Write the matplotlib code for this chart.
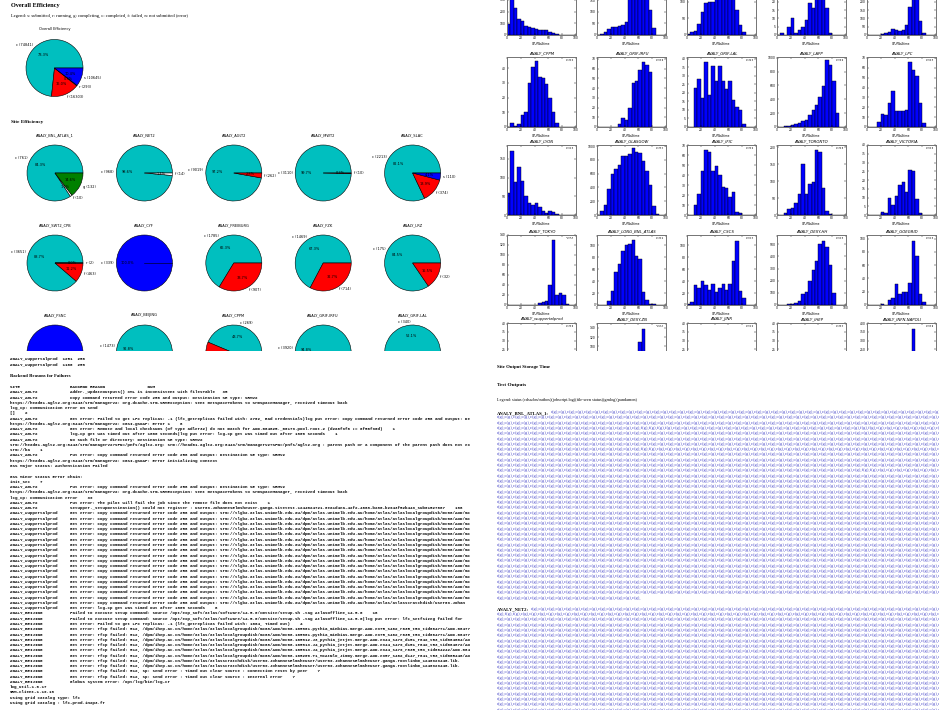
import numpy as np
import matplotlib
matplotlib.use("Agg")
import matplotlib.pyplot as plt
from matplotlib.patches import Rectangle
from matplotlib.ticker import MaxNLocator

W, H = 939, 710

# ---------------- data ----------------
# overall efficiency pie
overall_status = ['c', 'f', 'r', 's']
overall_counts = [74841, 16303, 293, 10645]
overall_colors = ['c', 'r', 'w', 'b']

# site efficiency pies
pie_sites = ['ANALY_BNL_ATLAS_1', 'ANALY_NET2', 'ANALY_AGLT2', 'ANALY_MWT2', 'ANALY_SLAC',
             'ANALY_SWT2_CPB', 'ANALY_CYF', 'ANALY_FREIBURG', 'ANALY_FZK', 'ANALY_LRZ',
             'ANALY_PSNC', 'ANALY_BEIJING', 'ANALY_CPPM', 'ANALY_GRIF-IRFU', 'ANALY_GRIF-LAL']
pie_status = [['c', 'f', 'g'], ['c', 'f'], ['c', 'f'], ['c', 'f'], ['c', 'f', 's'],
              ['c', 'f', 'r'], ['c'], ['c', 'f'], ['c', 'f'], ['c', 'f'],
              ['c'], ['c', 'f'], ['c', 'f'], ['c', 'f'], ['c', 'f']]
pie_counts = [[761, 10, 132], [968, 14], [9019, 262], [3110, 10], [2213, 374, 110],
              [3651, 463, 2], [339], [1785, 907], [1469, 714], [175, 32],
              [52], [1473, 114], [269, 347], [3920, 215], [340, 313]]
pie_colors = [['c', 'w', 'g'], ['c', 'w'], ['c', 'r'], ['c', 'r'], ['c', 'r', 'b'],
              ['c', 'r', 'w'], ['b'], ['c', 'r'], ['c', 'r'], ['c', 'r'],
              ['b'], ['c', 'r'], ['c', 'r'], ['c', 'r'], ['c', 'r']]

# CPU/Walltime histograms, 20 bins of 5% from 0 to 100
bin_edges = np.arange(0, 101, 5)
hist_names = ['', '', '', '', '',
              'ANALY_CPPM', 'ANALY_GRIF-IRFU', 'ANALY_GRIF-LAL', 'ANALY_LAPP', 'ANALY_LPC',
              'ANALY_LYON', 'ANALY_GLASGOW', 'ANALY_IFIC', 'ANALY_TORONTO', 'ANALY_VICTORIA',
              'ANALY_TOKYO', 'ANALY_LONG_BNL_ATLAS', 'ANALY_CSCS', 'ANALY_DESY-HH', 'ANALY_GOEGRID',
              'ANALY_wuppertalprod', 'ANALY_DESY-ZN', 'ANALY_JINR', 'ANALY_IHEP', 'ANALY_INFN-NAPOLI']
hist_counts = [
    [91, 570, 229, 137, 120, 80, 71, 57, 49, 43, 43, 43, 29, 14, 6, 0, 0, 0, 0, 0],
    [0, 3, 11, 26, 36, 36, 39, 43, 57, 170, 230, 285, 260, 230, 180, 107, 29, 0, 0, 0],
    [2, 10, 13, 33, 70, 97, 100, 98, 130, 160, 190, 200, 170, 110, 75, 30, 9, 0, 0, 0],
    [0, 1, 0, 5, 10, 1, 3, 5, 9, 19, 16, 26, 40, 30, 16, 1, 0, 0, 0, 0],
    [0, 0, 0, 0, 4, 10, 20, 38, 30, 24, 32, 58, 168, 400, 300, 82, 12, 0, 0, 0],
    [0, 3, 1, 2, 8, 10, 30, 41, 45, 34, 33, 29, 20, 10, 3, 0, 0, 0, 0, 0],
    [0, 0, 0, 0, 0, 0, 3, 9, 7, 20, 45, 47, 59, 67, 64, 57, 0, 0, 0, 0],
    [0, 0, 23, 28, 17, 38, 19, 36, 27, 36, 27, 22, 27, 16, 12, 10, 2, 0, 0, 0],
    [0, 5, 10, 20, 25, 45, 60, 80, 95, 175, 240, 320, 430, 590, 960, 890, 670, 200, 0, 0],
    [0, 0, 0, 5, 13, 12, 24, 37, 16, 16, 16, 17, 66, 58, 52, 24, 4, 0, 0, 0],
    [60, 170, 88, 128, 90, 50, 32, 27, 33, 22, 12, 5, 12, 8, 3, 1, 0, 1, 0, 0],
    [0, 60, 140, 380, 600, 660, 730, 860, 850, 890, 970, 920, 900, 780, 640, 430, 130, 10, 0, 0],
    [0, 0, 10, 21, 44, 65, 63, 44, 49, 40, 28, 27, 18, 23, 3, 2, 0, 0, 0, 0],
    [0, 0, 5, 18, 22, 35, 63, 150, 63, 92, 97, 190, 185, 78, 12, 2, 0, 0, 0, 0],
    [0, 0, 0, 0, 2, 1, 10, 6, 11, 17, 19, 13, 26, 25, 9, 1, 0, 0, 0, 0],
    [0, 0, 0, 0, 0, 0, 0, 1, 1, 4, 6, 9, 41, 130, 21, 24, 21, 3, 0, 0],
    [0, 0, 0, 6, 24, 55, 68, 91, 100, 102, 108, 82, 77, 21, 8, 2, 1, 0, 0, 0],
    [2, 5, 33, 29, 40, 33, 25, 35, 21, 29, 35, 25, 35, 74, 107, 24, 11, 0, 0, 0],
    [0, 0, 2, 5, 10, 20, 35, 90, 110, 200, 290, 360, 500, 530, 480, 330, 100, 3, 0, 0],
    [0, 0, 0, 0, 2, 0, 8, 11, 31, 16, 20, 19, 33, 97, 74, 16, 4, 0, 0, 0],
    [0, 0, 1, 3, 5, 8, 10, 12, 14, 16, 18, 16, 12, 9, 6, 3, 1, 0, 0, 0],
    [0, 0, 0, 0, 1, 2, 4, 6, 10, 18, 30, 50, 110, 137, 40, 8, 1, 0, 0, 0],
    [0, 0, 0, 1, 2, 4, 6, 8, 10, 12, 14, 12, 10, 8, 5, 3, 1, 0, 0, 0],
    [0, 1, 2, 3, 5, 7, 9, 11, 13, 15, 14, 12, 10, 8, 6, 4, 2, 1, 0, 0],
    [0, 0, 1, 2, 4, 8, 12, 20, 30, 45, 60, 90, 140, 365, 200, 60, 10, 0, 0, 0],
]
# y-axis upper limits
hist_ymax = [598, 300, 210, 42, 420,
             47.6, 72, 41, 1010, 71,
             187, 1015, 70.5, 206, 40,
             140, 117, 117, 577, 105.6,
             40, 150, 40, 40, 400]

# text tables
legend_left = 'Legend: s: submitted, r: running, g: completing, c: completed, f: failed, n: not submitted (error)'
legend_right = 'Legend: status (cdsacbn/outbox)(jobscript.log)(file-seen status)(gmlog)(pandamon)'
wupp_rows = [('ANALY_wuppertalprod', '1251', '256'), ('ANALY_wuppertalprod', '1100', '258')]

SRM = 'https://head01.aglt2.org:8443/srm/managerv2'
UNIMELB = ('Get error: Copy command returned error code 256 and output: srm://tlgb2.atlas.unimelb.edu.au/dpm/'
           'atlas.unimelb.edu.au/home/atlas/atlaslocalgroupdisk/mc08/AOD/mc08.105')
IHEP = 'Get error: rfcp failed: 512, /dpm/ihep.ac.cn/home/atlas/atlaslocalgroupdisk/mc08/AOD/mc08.'
failure_rows = [
    ('SITE', 'BACKEND REASON                 NUM'),
    ('ANALY_AGLT2', 'Adder._updateOutputs() XML is inconsistent with filesTable   35'),
    ('ANALY_AGLT2', 'Copy command returned error code 256 and output: Destination SE type: SRMv2'),
    (None, SRM + ': org.dcache.srm.SRMException: sent GetSpaceTokens to SrmSpaceManager, received timeout back'),
    (None, 'lcg_cp: Communication error on send'),
    (None, '[]    2'),
    ('ANALY_AGLT2', 'Get error: Failed to get LFC replicas: -1 (lfc_getreplicas failed with: 2702, Bad credentials)'
                    'lcg put error: Copy command returned error code 256 and output: Destination SE type: SRMv2'),
    (None, SRM + ': CGSI-gSOAP: Error 1    6'),
    ('ANALY_AGLT2', 'Get error: Remote and local checksums (of type adler32) do not match for AOD.064825._00179.pool.root.2 (d2a6f9f6 != 0f56f90d)    1'),
    ('ANALY_AGLT2', 'lcg-cp get was timed out after 1800 seconds|lcg put error: lcg-cp get was timed out after 1800 seconds    1'),
    ('ANALY_AGLT2', 'No such file or directory: Destination SE type: SRMv2'),
    (None, 'srm://head01.aglt2.org:8443/srm/managerv2?SFN=/pnfs/aglt2.org: srm://head01.aglt2.org:8443/srm/managerv2?SFN=/pnfs/aglt2.org : parent path or a component of the parent path does not exist'),
    (None, 'srm://ba    1'),
    ('ANALY_AGLT2', 'Put error: Copy command returned error code 256 and output: Destination SE type: SRMv2'),
    (None, SRM + ': CGSI-gSOAP: Error initializing context'),
    (None, 'GSS Major Status: Authentication Failed'),
    (None, ''),
    (None, 'GSS Minor Status Error Chain:'),
    (None, 'init_sec    7'),
    ('ANALY_AGLT2', 'Put error: Copy command returned error code 256 and output: Destination SE type: SRMv2'),
    (None, SRM + ': org.dcache.srm.SRMException: sent GetSpaceTokens to SrmSpaceManager, received timeout back'),
    (None, 'lcg_cp: Communication error    39'),
    ('ANALY_AGLT2', 'Put error: The pilot will fail the job since the remote file does not exist    1'),
    ('ANALY_AGLT2', 'Setupper._setupDestination() could not register : user09.JohannesElmsheuser.ganga.sitetest.'
                    '1244024721.0ea1d4ea-42f2-4608-b280-b2943f52b449_sub01527687    186'),
] + [('ANALY_wuppertalprod', UNIMELB + str(n)) for n in range(801, 818)] + [
    ('ANALY_wuppertalprod', 'Get error: Copy command returned error code 256 and output: srm://tlgb2.atlas.unimelb.edu.au/dpm/'
                            'atlas.unimelb.edu.au/home/atlas/atlasscratchdisk/user09.Johan'),
    ('ANALY_wuppertalprod', 'Get error: lcg-cp get was timed out after 1800 seconds    6'),
    ('ANALY_BEIJING', 'Failed to execute setup command: source /opt/exp_soft/atlas/software/14.5.0/cmtsite/setup.sh -tag AtlasOffline,14.5.0    16'),
    ('ANALY_BEIJING', 'Failed to execute setup command: source /opt/exp_soft/atlas/software/14.5.0/cmtsite/setup.sh -tag AtlasOffline,14.5.0|lcg put error: lfc_setfsizeg failed for'),
    ('ANALY_BEIJING', 'Get error: Failed to get LFC replicas: -1 (lfc_getreplicas failed with: 1004, Timed out)    4'),
    ('ANALY_BEIJING', IHEP + '105801.pythia_minbias.merge.AOD.e375_s462_r635_t53_tid064771/AOD.064771._0'),
    ('ANALY_BEIJING', IHEP + '105801.pythia_minbias.merge.AOD.e375_s462_r635_t53_tid064771/AOD.064771._0'),
    ('ANALY_BEIJING', IHEP + '105812.J3_pythia_jetjet.merge.AOD.e344_s479_d151_r642_t53_tid064804/AOD.06'),
    ('ANALY_BEIJING', IHEP + '105813.J4_pythia_jetjet.merge.AOD.e344_s479_d151_r642_t53_tid064872/AOD.06'),
    ('ANALY_BEIJING', IHEP + '105813.J4_pythia_jetjet.merge.AOD.e344_s479_r635_t53_tid064242/AOD.064242.'),
    ('ANALY_BEIJING', IHEP + '105200.T1_McAtNlo_Jimmy.merge.AOD.e357_s462_d147_r641_t53_tid065448/AOD.06'),
    ('ANALY_BEIJING', 'Get error: rfcp failed: 512, /dpm/ihep.ac.cn/home/atlas/atlasscratchdisk/user09.JohannesElmsheuser/'
                      'user09.JohannesElmsheuser.ganga.rootlinkm_1240929446.lib.'),
    ('ANALY_BEIJING', 'Get error: rfcp failed: 512, /dpm/ihep.ac.cn/home/atlas/atlasscratchdisk/user09.JohannesElmsheuser/'
                      'user09.JohannesElmsheuser.ganga.rootlinkm_1240929446.lib.'),
    ('ANALY_BEIJING', 'Get error: rfcp failed: 512, sp: send error : Timed out clear source : Connection reset by peer    7'),
    ('ANALY_BEIJING', 'Get error: rfcp failed: 512, sp: send error : Timed out clear source : Internal error    7'),
    ('ANALY_BEIJING', 'Globus system error: /opt/lcg/bin/lcg-cr'),
    (None, 'log_util-1.6.17'),
    (None, 'SRM-client-1.19.18'),
    (None, 'Using grid catalog type: lfc'),
    (None, 'Using grid catalog : lfc-prod.in2p3.fr'),
]

# test outputs: job links per site, (line, token) of failed jobs
out_sites = ['ANALY_BNL_ATLAS_1:', 'ANALY_NET2:']
out_lines = [36, 20]
out_last_tokens = [17, 60]
out_failed = {0: [(3, 17), (3, 18), (3, 19), (3, 20), (3, 43), (3, 44), (7, 17), (7, 18), (11, 43), (11, 44)],
              1: [(1, 1), (1, 2)]}

# ---------------- drawing ----------------
fig = plt.figure(figsize=(W / 100, H / 100), dpi=100)
renderer = fig.canvas.get_renderer()


def px_axes(x, y, w, h, **kw):
    return fig.add_axes([x / W, 1 - (y + h) / H, w / W, h / H], **kw)


def px_text(x, y, s, **kw):
    kw.setdefault('va', 'center')
    return fig.text(x / W, 1 - y / H, s, **kw)


def draw_pie(cx, cy, r, title, status, counts, colors):
    ax = px_axes(cx - 1.25 * r, cy - 1.25 * r, 2.5 * r, 2.5 * r)
    labels = ['%s (%d)' % (s, n) for s, n in zip(status, counts)]
    ax.pie(counts, labels=labels, colors=colors, autopct='%1.1f%%',
           wedgeprops=dict(edgecolor='k', linewidth=0.4),
           textprops=dict(fontsize=2.5), labeldistance=1.1, pctdistance=0.6)
    if len(counts) == 1:
        ax.plot([0, 1], [0, 0], color='k', lw=0.4)
    ax.set_xlim(-1.25, 1.25)
    ax.set_ylim(-1.25, 1.25)
    ax.set_aspect('equal')
    ax.set_title(title, fontsize=2.6, pad=1.5)


serif = 'Liberation Serif'
px_text(11, 5.5, 'Overall Efficiency', family=serif, weight='bold', fontsize=4.5)
px_text(11, 16, legend_left, family=serif, fontsize=3.3)
draw_pie(54.5, 68, 28.5, 'Overall Efficiency', overall_status, overall_counts, overall_colors)

px_text(11, 121.5, 'Site Efficiency', family=serif, weight='bold', fontsize=3.8)
for i, site in enumerate(pie_sites):
    row, col = divmod(i, 5)
    draw_pie(55 + 89.4 * col, 173 + 90 * row, 28, site, pie_status[i], pie_counts[i], pie_colors[i])

# histograms
hist_left = [507, 597, 687, 777, 867]
hist_top = [-35, 57, 145, 235, 323]
centers = bin_edges[:-1] + 2.5
for i, (name, counts) in enumerate(zip(hist_names, hist_counts)):
    row, col = divmod(i, 5)
    ax = px_axes(hist_left[col], hist_top[row], 69, 70)
    ax.hist(bin_edges[:-1], bins=bin_edges, weights=counts, color='b', edgecolor='k', linewidth=0.3)
    ax.set_xlim(0, 100)
    ax.set_ylim(0, hist_ymax[i])
    ax.set_xticks(range(0, 101, 20))
    ax.yaxis.set_major_locator(MaxNLocator(nbins=9, steps=[1, 2, 5, 10]))
    ax.tick_params(labelsize=2.2, direction='in', length=1.5, width=0.3, top=True, right=True, pad=1)
    for sp in ax.spines.values():
        sp.set_linewidth(0.7)
        sp.set_color('0.45')
    ax.set_xlabel('CPU/Walltime', fontsize=2, labelpad=1)
    if name:
        ax.set_title(name, fontsize=2.8, style='italic', pad=2)
    mu = np.average(centers, weights=counts)
    sigma = np.sqrt(np.average((centers - mu) ** 2, weights=counts))
    ax.text(0.97, 0.97, 'μ=%.1f\nσ=%.1f' % (mu, sigma), transform=ax.transAxes,
            ha='right', va='top', fontsize=1.6, linespacing=1.1)

# blank page area below the scrolled chart views
fig.add_artist(Rectangle((0, 0), 1, 1 - 351 / H, transform=fig.transFigure,
                         facecolor='white', edgecolor='none', zorder=1))

# left: failure table
ax_log = px_axes(0, 351, 470, 359)
ax_log.set_zorder(2)
ax_log.set_xlim(0, 470)
ax_log.set_ylim(710, 351)
ax_log.axis('off')
mono = dict(family='Liberation Mono', fontsize=2.95, weight='bold', va='center', clip_on=True)
for k, (site, a, b) in enumerate(wupp_rows):
    ax_log.text(10, 359 + 6 * k, '%s  %s  %s' % (site, a, b), **mono)
px_text(10, 376, 'Backend Reasons for Failures', family=serif, weight='bold', fontsize=3.4, zorder=3)
step = (703 - 387) / (len(failure_rows) - 1)
for k, (site, text) in enumerate(failure_rows):
    line = text if site is None else '%-24s%s' % (site, text)
    ax_log.text(10, 387 + step * k, line, **mono)

# right: test outputs
px_text(497, 367, 'Site Output Storage Time', family=serif, weight='bold', fontsize=3.5, zorder=3)
px_text(497, 385, 'Test Outputs', family=serif, weight='bold', fontsize=3.8, zorder=3)
px_text(497, 400, legend_right, family=serif, fontsize=3.1, zorder=3)
ax_out = px_axes(495, 351, 444, 359)
ax_out.set_zorder(2)
ax_out.set_xlim(495, 939)
ax_out.set_ylim(710, 351)
ax_out.axis('off')
tok = dict(family=serif, fontsize=3.3, va='center', clip_on=True)
y = 413
for s, site in enumerate(out_sites):
    lab = ax_out.text(497, y, site, weight='bold', color='k', **tok)
    lab_w = lab.get_window_extent(renderer=renderer).width
    for ln in range(out_lines[s]):
        n = out_last_tokens[s] if ln == out_lines[s] - 1 else 60
        toks = ['f(g),' if (ln, t) in out_failed[s] else 'c(g),' for t in range(n)]
        x0 = 497 + lab_w + 2 if ln == 0 else 497
        ax_out.text(x0, y, ''.join(toks), color='#4646c8', **tok)
        y += 5.3
    y += 6

fig.savefig('out.png', dpi=100)
